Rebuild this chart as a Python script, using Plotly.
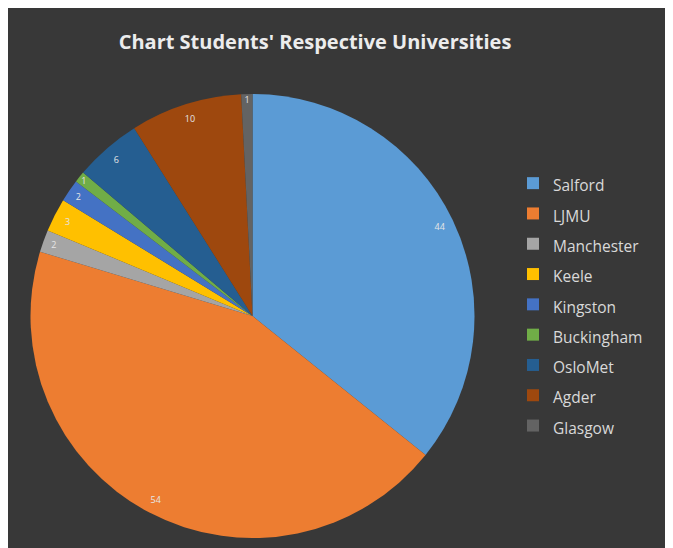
import plotly.graph_objects as go

universities = ["Salford", "LJMU", "Manchester", "Keele", "Kingston",
                "Buckingham", "OsloMet", "Agder", "Glasgow"]
students = [44, 54, 2, 3, 2, 1, 6, 10, 1]
colors = ["#5B9BD5", "#ED7D31", "#A5A5A5", "#FFC000", "#4472C4",
          "#70AD47", "#255E91", "#9E480E", "#636363"]

W, H = 673, 548
# the page body adds an 8px offset; positions below are in figure pixels
domain = dict(x=[22.5 / W, 466.5 / W], y=[18 / H, 462 / H])

legend_labels = ['<span style="font-size:15.5px">%s</span>' % u for u in universities]

fig = go.Figure()
fig.add_trace(go.Pie(
    labels=legend_labels, values=students, sort=False, direction="clockwise",
    rotation=0, marker=dict(colors=colors, line=dict(width=0)),
    textinfo="none", domain=domain, hoverinfo="label+value",
))
fig.add_trace(go.Pie(
    labels=legend_labels, values=students, sort=False, direction="clockwise",
    rotation=0, hole=0.87, marker=dict(colors=["rgba(0,0,0,0)"] * len(students), line=dict(width=0)),
    texttemplate="%{value}", textposition="inside", insidetextorientation="horizontal",
    textfont=dict(family="Open Sans", size=9, color="#e6e6e6"),
    domain=domain, showlegend=False, hoverinfo="skip",
))

fig.update_layout(
    width=W, height=H,
    margin=dict(l=0, r=0, t=0, b=0),
    paper_bgcolor="#383838",
    plot_bgcolor="#383838",
    uniformtext=dict(minsize=9, mode="show"),
    title=dict(text="<b>Chart Students' Respective Universities</b>",
               x=307 / W, xanchor="center", y=1 - 34 / H, yanchor="middle",
               font=dict(family="Open Sans", size=20, color="#ececec")),
    legend=dict(x=505 / W, xanchor="left", y=1 - 296.5 / H, yanchor="middle",
                font=dict(family="Open Sans", size=21, color="#d9d9d9"),
                bgcolor="rgba(0,0,0,0)", traceorder="normal"),
)

fig.write_html("out.html")
